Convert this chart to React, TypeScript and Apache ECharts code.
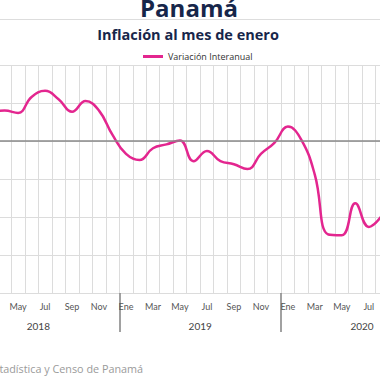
import React, { useEffect, useRef } from "react";
import * as echarts from "echarts";

const MONTHS = ["Ene", "Feb", "Mar", "Abr", "May", "Jun", "Jul", "Ago", "Sep", "Oct", "Nov", "Dic"];
const YEARS = ["2018", "2019", "2020"];
const categories: string[] = YEARS.flatMap(() => MONTHS);

const values2018: (number | null)[] = [null, null, 0.75, 0.8, 0.74, 1.16, 1.32, 1.1, 0.77, 1.05, 0.8, 0.16];
const values2019: (number | null)[] = [-0.34, -0.5, -0.19, -0.09, 0.01, -0.53, -0.26, -0.53, -0.61, -0.74, -0.34, -0.05];
const values2020: (number | null)[] = [0.38, 0.03, -0.89, -2.46, -2.48, -1.64, -2.26, -1.95, null, null, null, null];
const seriesValues = [...values2018, ...values2019, ...values2020];

const TITLE = "Panamá";
const SUBTITLE = "Inflación al mes de enero";
const SERIES_NAME = "Variación Interanual";
const SOURCE = "Fuente: Instituto Nacional de Estadística y Censo de Panamá";

const PINK = "#e3268f";
const NAVY = "#17264a";
const FONT = "'Open Sans', Lato, sans-serif";
const AXIS_FONT = "Lato, 'Open Sans', sans-serif";

export default function App() {
  const ref = useRef<HTMLDivElement>(null);
  useEffect(() => {
    if (!ref.current) return;
    const chart = echarts.init(ref.current, undefined, { renderer: "svg" });
    chart.setOption({
      animation: false,
      backgroundColor: "#ffffff",
      textStyle: { fontFamily: FONT },
      legend: {
        data: [SERIES_NAME],
        left: 138,
        top: 47,
        icon: "rect",
        itemWidth: 20,
        itemHeight: 3,
        itemGap: 4,
        textStyle: { fontSize: 9, color: "#333", fontFamily: FONT },
      },
      graphic: [
        {
          type: "text",
          x: 189,
          y: 7,
          style: {
            text: TITLE,
            align: "center",
            verticalAlign: "middle",
            fontSize: 24,
            fontWeight: "bold",
            fill: NAVY,
            fontFamily: FONT,
          },
        },
        {
          type: "line",
          shape: { x1: 0, y1: 19.5, x2: 380, y2: 19.5 },
          style: { stroke: "#dddddd", lineWidth: 1 },
        },
        {
          type: "text",
          x: 188,
          y: 34,
          style: {
            text: SUBTITLE,
            align: "center",
            verticalAlign: "middle",
            fontSize: 14.5,
            fontWeight: "bold",
            fill: NAVY,
            fontFamily: FONT,
          },
        },
        {
          type: "text",
          x: 143,
          y: 368,
          style: {
            text: SOURCE,
            align: "right",
            verticalAlign: "middle",
            fontSize: 10.8,
            fill: "#9a9a9a",
            fontFamily: FONT,
          },
        },
      ],
      grid: {
        left: -42.6,
        right: -63,
        top: 65,
        bottom: 87,
        containLabel: false,
        outerBoundsMode: "none",
      },
      xAxis: [
        {
          type: "category",
          data: categories,
          boundaryGap: true,
          axisLine: { lineStyle: { color: "#d6d6d6", width: 1 } },
          axisTick: { show: false },
          axisLabel: {
            interval: 1,
            fontSize: 9,
            color: "#555",
            margin: 9,
            fontFamily: AXIS_FONT,
          },
          splitLine: { show: true, interval: 0, lineStyle: { color: "#dcdcdc", width: 1 } },
        },
        {
          type: "category",
          data: YEARS,
          position: "bottom",
          boundaryGap: true,
          axisLine: { show: false },
          axisTick: { show: true, length: 39, lineStyle: { color: "#8a8a8a", width: 1.6 } },
          axisLabel: { fontSize: 10, color: "#444", margin: 28, fontFamily: AXIS_FONT },
          splitLine: { show: false },
        },
      ],
      yAxis: {
        type: "value",
        min: -4,
        max: 2,
        interval: 1,
        axisLine: { show: false },
        axisTick: { show: false },
        axisLabel: { show: false },
        splitLine: { lineStyle: { color: "#dcdcdc", width: 1 } },
      },
      series: [
        {
          name: SERIES_NAME,
          type: "line",
          data: seriesValues,
          smooth: 0.45,
          showSymbol: false,
          symbol: "none",
          lineStyle: { color: PINK, width: 2.5 },
          itemStyle: { color: PINK },
          markLine: {
            silent: true,
            symbol: "none",
            label: { show: false },
            lineStyle: { color: "#8a8a8a", width: 1.5, type: "solid" },
            data: [{ yAxis: 0 }],
          },
          z: 3,
        },
      ],
    });
    return () => chart.dispose();
  }, []);
  return (
    <div
      ref={ref}
      style={{ position: "fixed", left: 0, top: 0, width: 380, height: 380 }}
    />
  );
}
